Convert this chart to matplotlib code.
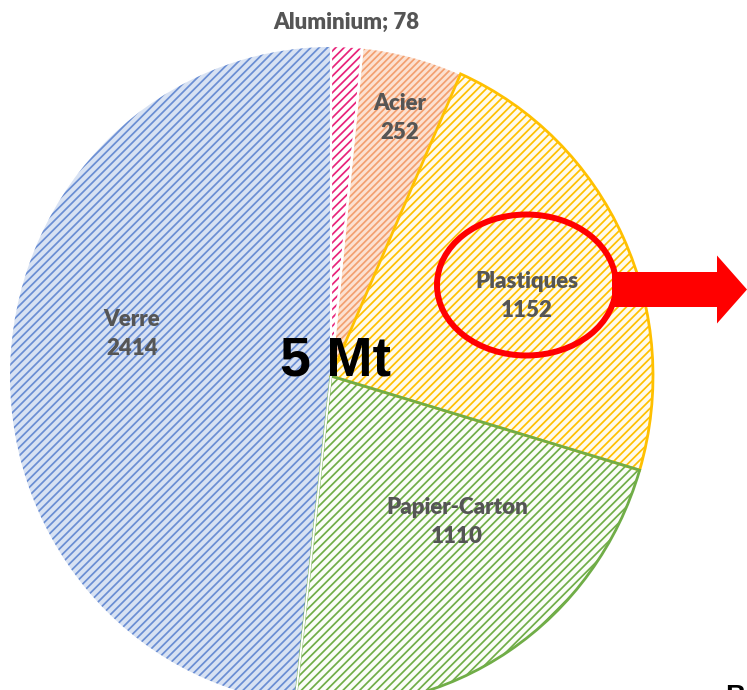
import matplotlib
matplotlib.use('Agg')
import matplotlib.pyplot as plt
from matplotlib.patches import Ellipse, FancyArrow

# ---- data ----
categories = ['Aluminium', 'Acier', 'Plastiques', 'Papier-Carton', 'Verre']
values = [78, 252, 1152, 1110, 2414]
total_label = '5 Mt'

# ---- styles ----
face_colors = ['#FFFFFF', '#FCE1D1', '#FFFBEC', '#FBFDF8', '#D8E2F3']
hatch_colors = ['#E8237A', '#F3A070', '#FFC000', '#70AD47', '#6A8ED3']
hatch_density = ['////', '/////', '////', '////', '////']
outline_colors = ['white', 'white', '#FFC000', '#70AD47', 'white']
outline_widths = [1.6, 1.6, 2.0, 2.0, 1.4]

W, H = 747, 690
fig = plt.figure(figsize=(W / 100, H / 100), dpi=100)

# pie axes (slightly elliptical as in the reference)
cx, cy, rx, ry = 331, 376, 322, 330
axp = fig.add_axes([(cx - rx) / W, (H - (cy + ry)) / H, 2 * rx / W, 2 * ry / H])
plt.rcParams['hatch.linewidth'] = 1.25
wedges, _ = axp.pie(values, startangle=90, counterclock=False, radius=1,
                    colors=face_colors, wedgeprops=dict(linewidth=0))
for w, hc, d in zip(wedges, hatch_colors, hatch_density):
    w.set_hatch(d)
    w.set_edgecolor(hc)
    w.set_linewidth(0)

wedges2, _ = axp.pie(values, startangle=90, counterclock=False, radius=1,
                     colors=['none'] * len(values))
for w, ec, lw in zip(wedges2, outline_colors, outline_widths):
    w.set_facecolor('none')
    w.set_edgecolor(ec)
    w.set_linewidth(lw)
axp.set_xlim(-1, 1)
axp.set_ylim(-1, 1)
axp.set_aspect('auto')
axp.axis('off')

# overlay axes in pixel coordinates
ax = fig.add_axes([0, 0, 1, 1])
ax.set_xlim(0, W)
ax.set_ylim(H, 0)
ax.axis('off')
ax.patch.set_alpha(0)

lab_font = dict(family='Lato', weight='heavy', color='#555555', fontsize=16,
                ha='center', va='center', linespacing=1.45)
label_pos = {
    'Aluminium': (346, 22),
    'Acier': (400, 118),
    'Plastiques': (527, 296),
    'Papier-Carton': (457, 522),
    'Verre': (132, 334),
}
for c, v in zip(categories, values):
    x, y = label_pos[c]
    if c == 'Aluminium':
        txt = f'{c}; {v}'
    else:
        txt = f'{c}\n{v}'
    ax.text(x, y, txt, **lab_font)

ax.text(335, 362, total_label, family='Liberation Sans', weight='bold',
        fontsize=40, color='black', ha='center', va='center')

# red highlight ellipse and arrow
ax.add_patch(FancyArrow(612, 289.5, 135, 0, width=35, head_width=68,
                        head_length=30, length_includes_head=True,
                        color='#FF0000', linewidth=0))
ax.add_patch(Ellipse((526.5, 285), 179, 141, fill=False,
                     edgecolor='#FF0000', linewidth=4.3))

ax.text(725, 684, 'B', family='Liberation Sans', weight='bold', fontsize=20,
        color='black', ha='left', va='top')

fig.savefig('out.png', dpi=100)
